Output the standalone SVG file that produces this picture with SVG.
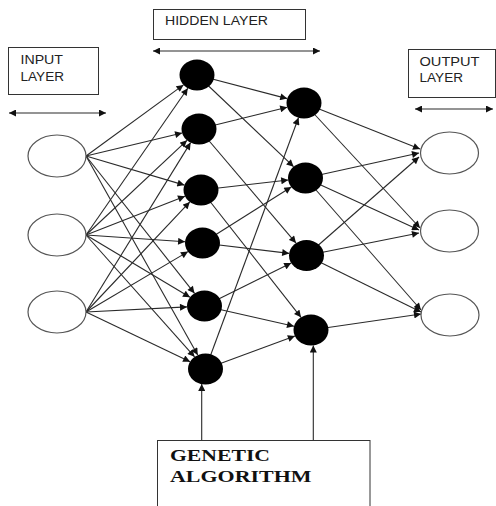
<svg xmlns="http://www.w3.org/2000/svg" width="496" height="506" viewBox="0 0 496 506">
<defs>
<marker id="ah" viewBox="0 0 10 10" refX="10" refY="5" markerUnits="userSpaceOnUse" markerWidth="8" markerHeight="7" orient="auto-start-reverse">
<path d="M0,0 L10,5 L0,10 z" fill="#111"/>
</marker>
</defs>
<style>
.box{fill:#fff;stroke:#333;stroke-width:1}
.lbl{font-family:"Liberation Sans",Arial,sans-serif;font-size:12.5px;fill:#222}
.ga{font-family:"Liberation Serif","Times New Roman",serif;font-size:16px;font-weight:bold;fill:#111}
.in{fill:#fff;stroke:#555;stroke-width:1.2}
.hid{fill:#000;stroke:none}
.c line{stroke:#2a2a2a;stroke-width:1.1;marker-end:url(#ah)}
.dbl{stroke:#2a2a2a;stroke-width:1.2;marker-start:url(#ah);marker-end:url(#ah)}
</style>
<rect width="496" height="506" fill="#fff"/>
<g id="input-layer-label">
<rect class="box" x="8.5" y="47.5" width="90" height="47"/>
<text class="lbl" x="20.5" y="64" textLength="42.5" lengthAdjust="spacingAndGlyphs">INPUT</text>
<text class="lbl" x="20.5" y="80.5" textLength="43.5" lengthAdjust="spacingAndGlyphs">LAYER</text>
</g>
<g id="hidden-layer-label">
<rect class="box" x="153.5" y="9.5" width="152" height="30"/>
<text class="lbl" x="165" y="25" font-size="12" textLength="103" lengthAdjust="spacingAndGlyphs">HIDDEN LAYER</text>
</g>
<g id="output-layer-label">
<rect class="box" x="408.5" y="49.5" width="87" height="48"/>
<text class="lbl" x="419.5" y="65.5" textLength="60" lengthAdjust="spacingAndGlyphs">OUTPUT</text>
<text class="lbl" x="419.5" y="82" textLength="43.5" lengthAdjust="spacingAndGlyphs">LAYER</text>
</g>
<g id="genetic-algorithm">
<rect class="box" x="157.5" y="440.5" width="212.5" height="80"/>
<text class="ga" x="170" y="461" textLength="100" lengthAdjust="spacingAndGlyphs">GENETIC</text>
<text class="ga" x="170" y="481.5" textLength="141.5" lengthAdjust="spacingAndGlyphs">ALGORITHM</text>
</g>
<g id="connectors">
<line class="dbl" x1="9" y1="113" x2="106" y2="113"/>
<line class="dbl" x1="153" y1="51" x2="320" y2="51"/>
<line class="dbl" x1="415" y1="109" x2="493" y2="109"/>
<g class="c">
<line x1="86" y1="156" x2="183.5" y2="84.9"/>
<line x1="86" y1="156" x2="182.1" y2="133"/>
<line x1="86" y1="156" x2="184.4" y2="185.1"/>
<line x1="86" y1="156" x2="194.5" y2="293.3"/>
<line x1="86" y1="156" x2="197.7" y2="355.1"/>
<line x1="86" y1="235" x2="187.8" y2="88.2"/>
<line x1="86" y1="235" x2="187" y2="140.3"/>
<line x1="86" y1="235" x2="185" y2="196.3"/>
<line x1="86" y1="235" x2="185.1" y2="241.8"/>
<line x1="86" y1="235" x2="190" y2="297.3"/>
<line x1="86" y1="235" x2="194.6" y2="356.8"/>
<line x1="86" y1="312" x2="190.6" y2="142.6"/>
<line x1="86" y1="312" x2="189.8" y2="201.9"/>
<line x1="86" y1="312" x2="188" y2="251.6"/>
<line x1="86" y1="312" x2="187" y2="306.9"/>
<line x1="86" y1="312" x2="190.1" y2="361.7"/>
<line x1="197" y1="75" x2="287.2" y2="98.6"/>
<line x1="197" y1="75" x2="293.6" y2="166.7"/>
<line x1="199" y1="129" x2="287.2" y2="107.2"/>
<line x1="199" y1="129" x2="296" y2="243.1"/>
<line x1="201" y1="190" x2="288.2" y2="180"/>
<line x1="201" y1="190" x2="301" y2="317.3"/>
<line x1="202.5" y1="243" x2="291.3" y2="187"/>
<line x1="202.5" y1="243" x2="289.2" y2="253.4"/>
<line x1="204.5" y1="306" x2="291.2" y2="263.1"/>
<line x1="204.5" y1="306" x2="294" y2="326.2"/>
<line x1="205.5" y1="369" x2="298.5" y2="117.7"/>
<line x1="205.5" y1="369" x2="294.9" y2="336"/>
<line x1="304" y1="103" x2="420" y2="149"/>
<line x1="304" y1="103" x2="420" y2="228"/>
<line x1="305.5" y1="178" x2="419" y2="153"/>
<line x1="305.5" y1="178" x2="419" y2="230"/>
<line x1="305.5" y1="178" x2="421" y2="310"/>
<line x1="306.5" y1="255.5" x2="419" y2="157"/>
<line x1="306.5" y1="255.5" x2="419" y2="233"/>
<line x1="306.5" y1="255.5" x2="421" y2="312"/>
<line x1="311" y1="330" x2="421" y2="314"/>
<line x1="201.7" y1="440" x2="201.7" y2="384"/>
<line x1="313.3" y1="440" x2="313.3" y2="345.5"/>
</g>
</g>
<g id="input-1"><ellipse class="in" cx="57" cy="156" rx="29" ry="21"/></g>
<g id="input-2"><ellipse class="in" cx="57" cy="235" rx="29" ry="21"/></g>
<g id="input-3"><ellipse class="in" cx="57" cy="312" rx="29" ry="21"/></g>
<g id="hidden1-1"><ellipse class="hid" cx="197" cy="75" rx="17.5" ry="15.5"/></g>
<g id="hidden1-2"><ellipse class="hid" cx="199" cy="129" rx="17.5" ry="15.5"/></g>
<g id="hidden1-3"><ellipse class="hid" cx="201" cy="190" rx="17.5" ry="15.5"/></g>
<g id="hidden1-4"><ellipse class="hid" cx="202.5" cy="243" rx="17.5" ry="15.5"/></g>
<g id="hidden1-5"><ellipse class="hid" cx="204.5" cy="306" rx="17.5" ry="15.5"/></g>
<g id="hidden1-6"><ellipse class="hid" cx="205.5" cy="369" rx="17.5" ry="15.5"/></g>
<g id="hidden2-1"><ellipse class="hid" cx="304" cy="103" rx="17.5" ry="15.5"/></g>
<g id="hidden2-2"><ellipse class="hid" cx="305.5" cy="178" rx="17.5" ry="15.5"/></g>
<g id="hidden2-3"><ellipse class="hid" cx="306.5" cy="255.5" rx="17.5" ry="15.5"/></g>
<g id="hidden2-4"><ellipse class="hid" cx="311" cy="330" rx="17.5" ry="15.5"/></g>
<g id="output-1"><ellipse class="in" cx="449.5" cy="153" rx="29" ry="21"/></g>
<g id="output-2"><ellipse class="in" cx="449.5" cy="231" rx="29" ry="21"/></g>
<g id="output-3"><ellipse class="in" cx="450" cy="315" rx="29" ry="21"/></g>
</svg>
